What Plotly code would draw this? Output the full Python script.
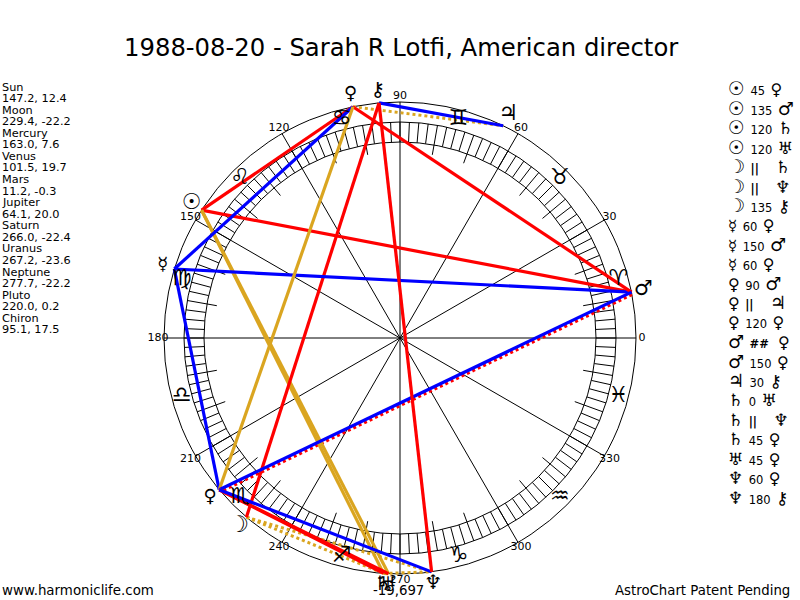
import plotly.graph_objects as go

FONT = "DejaVu Sans"
W, H = 800, 600
CX, CY, R = 400, 338, 236
R_MAX = 260  # room for the glyphs outside the wheel
DOT_SHIFT = 0.6  # the contra-parallel dots sit just below the blue line

# Planet table
planet_names = ["Sun", "Moon", "Mercury", "Venus", "Mars", "Jupiter", "Saturn", "Uranus", "Neptune", "Pluto", "Chiron"]
planet_glyphs = ["☉", "☽", "☿", "♀", "♂", "♃", "♄", "♅", "♆", "♀", "⚷"]
longitudes = [147.2, 229.4, 163.0, 101.5, 11.2, 64.1, 266.0, 267.2, 277.7, 220.0, 95.1]
declinations = [12.4, -22.2, 7.6, 19.7, -0.3, 20.0, -22.4, -23.6, -22.2, 0.2, 17.5]

# Aspects: first planet, label, second planet
aspect_a = ["Sun", "Sun", "Sun", "Sun", "Moon", "Moon", "Moon", "Mercury", "Mercury", "Mercury", "Venus",
            "Venus", "Venus", "Mars", "Mars", "Jupiter", "Saturn", "Saturn", "Saturn", "Uranus", "Neptune", "Neptune"]
aspect_lbl = ["45", "135", "120", "120", "||", "||", "135", "60", "150", "60", "90",
              "||", "120", "#", "150", "30", "0", "||", "45", "45", "60", "180"]
aspect_b = ["Venus", "Mars", "Saturn", "Uranus", "Saturn", "Neptune", "Chiron", "Venus", "Mars", "Pluto", "Mars",
            "Jupiter", "Pluto", "Pluto", "Pluto", "Chiron", "Uranus", "Neptune", "Pluto", "Pluto", "Pluto", "Chiron"]

zodiac_glyphs = ["♈", "♉", "♊", "♋", "♌", "♍", "♎", "♏", "♐", "♑", "♒", "♓"]
zodiac_mid = [15, 45, 75, 105, 135, 165, 195, 225, 255, 285, 315, 345]
degree_ticks = [0, 30, 60, 90, 120, 150, 180, 210, 240, 270, 300, 330]

pos = dict(zip(planet_names, longitudes))
glyph = dict(zip(planet_names, planet_glyphs))

# Sun and Moon are heavier in the original, Venus-like glyphs narrower
WHEEL_SIZE = {"☉": 22, "☽": 23, "☿": 18, "♀": 18, "♂": 21, "♃": 22}
LIST_SIZE = {"☉": 19, "☽": 19, "☿": 15, "♀": 16, "♂": 18, "♃": 18}
BOLD = ("☉", "☽")


def heavy(g):
    return "<b>" + g + "</b>" if g in BOLD else g


def aspect_style(label):
    if label in ("||", "#"):
        return dict(color="#daa520" if label == "||" else "#ff0000", width=3, dash="dot")
    if label in ("45", "90", "135", "180"):
        return dict(color="#ff0000", width=3.2)
    if label in ("30", "60", "150"):
        return dict(color="#0000ff", width=3.2)
    return dict(color="#daa520", width=3.2)


fig = go.Figure()

# Spokes, and band ticks every 2.5 degrees, longer every 10
line_r, line_t = [], []
for d in degree_ticks:
    line_r += [0, R, None]
    line_t += [d, d, None]
for i in range(144):
    a = i * 2.5
    inner = 186 if a % 10 == 0 and a % 30 != 0 else 196
    line_r += [inner, 216, None]
    line_t += [a, a, None]
fig.add_trace(go.Scatterpolar(r=line_r, theta=line_t, mode="lines", line=dict(color="black", width=1),
                              connectgaps=False, hoverinfo="skip"))

# Aspect lines, dotted ones first so the solid lines lie on top
order = sorted(zip(aspect_a, aspect_lbl, aspect_b), key=lambda row: row[1] not in ("||", "#"))
for a, lbl, b in order:
    shift = DOT_SHIFT if lbl == "#" else 0
    fig.add_trace(go.Scatterpolar(r=[R, R], theta=[pos[a] - shift, pos[b] + shift], mode="lines",
                                  line=aspect_style(lbl), name=a + " " + lbl + " " + b))

# Glyphs around the wheel
fig.add_trace(go.Scatterpolar(r=[226] * 12, theta=zodiac_mid, mode="text", text=zodiac_glyphs,
                              textposition="middle center", textfont=dict(family=FONT, size=22, color="black")))
fig.add_trace(go.Scatterpolar(r=[248] * 11, theta=longitudes, mode="text", text=[heavy(g) for g in planet_glyphs],
                              textposition="middle center",
                              textfont=dict(family=FONT, size=[WHEEL_SIZE.get(g, 20) for g in planet_glyphs],
                                            color="black")))
fig.add_trace(go.Scatterpolar(r=[242] * 12, theta=degree_ticks, mode="text", text=[str(d) for d in degree_ticks],
                              textposition="middle center", textfont=dict(family=FONT, size=11, color="black")))

annots = []


def label(x, y, text, size, anchor="left"):
    annots.append(dict(x=x / W, y=1 - y / H, xref="paper", yref="paper", text=text, showarrow=False,
                       xanchor=anchor, yanchor="middle", align=anchor, borderpad=0, borderwidth=0,
                       font=dict(family=FONT, size=size, color="black")))


def sized(g):
    return '<span style="font-size:%dpx">%s</span>' % (LIST_SIZE.get(g, 17), heavy(g))


label(401, 48, "1988-08-20 - Sarah R Lotfi, American director", 24.3, "center")
label(398, 590, "-19,697", 13.3, "center")
label(2, 590, "www.harmoniclife.com", 13.4)
label(790, 590, "AstroChart Patent Pending", 13.3, "right")

# Left column
y = 87
for name, lon, dec in zip(planet_names, longitudes, declinations):
    label(2, y, name, 11.3)
    label(2, y + 11.57, f"{lon:.1f}, {dec:.1f}", 11.3)
    y += 23.14

# Right column
for i, (a, lbl, b) in enumerate(zip(aspect_a, aspect_lbl, aspect_b)):
    mid = {"||": "<b>||</b>\u00a0\u00a0\u00a0", "#": "<b>##</b>\u00a0"}.get(lbl, lbl)
    txt = sized(glyph[a]) + '\u00a0<span style="font-size:11.5px">' + mid + "</span>\u00a0" + sized(glyph[b])
    label(728, 88 + i * 19.52, txt, 17)

fig.update_layout(
    width=W, height=H, showlegend=False, paper_bgcolor="white", annotations=annots,
    margin=dict(l=0, r=0, t=0, b=0),
    polar=dict(
        domain=dict(x=[(CX - R_MAX) / W, (CX + R_MAX) / W], y=[1 - (CY + R_MAX) / H, 1 - (CY - R_MAX) / H]),
        bgcolor="white",
        radialaxis=dict(range=[0, R_MAX], tickvals=[196, 216, R], showticklabels=False, ticks="", showline=False,
                        gridcolor="black", gridwidth=1),
        angularaxis=dict(rotation=0, direction="counterclockwise", showticklabels=False, showgrid=False,
                         ticks="", showline=False),
    ),
)

# The page's default 8px body margin would push the figure off the 800x600 window
fig.write_html("out.html", config=dict(displayModeBar=False), post_script="document.body.style.margin='0';")
